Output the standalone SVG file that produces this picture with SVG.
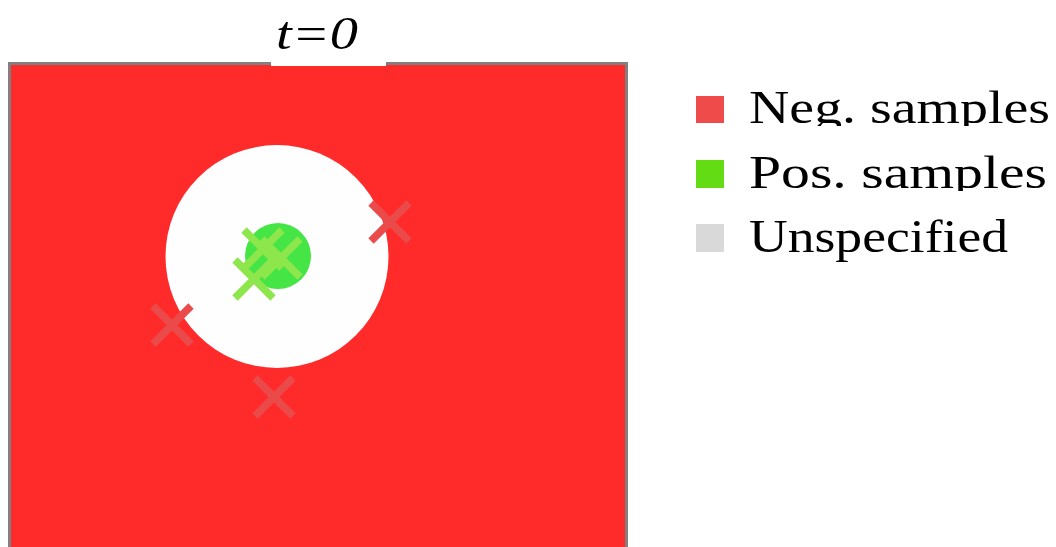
<svg xmlns="http://www.w3.org/2000/svg" width="1056" height="547" viewBox="0 0 1056 547">
<defs>
<style>
.lbl{font-family:"Liberation Serif","Times New Roman",serif;font-size:47px;fill:#000}
.neg{stroke:#eb4a4a;stroke-width:7.5;fill:none}
.pos{stroke:#8de64b;stroke-width:7.5;fill:none}
</style>
<clipPath id="c1"><rect x="740" y="80" width="316" height="46"/></clipPath>
<clipPath id="c2"><rect x="740" y="140" width="316" height="51"/></clipPath>
</defs>
<rect width="1056" height="547" fill="#fff"/>
<g id="plot">
<rect x="9.5" y="63.5" width="617" height="500" fill="#ff2b2b" stroke="#808080" stroke-width="3"/>
<rect x="271" y="58" width="115" height="8" fill="#fff"/>
<circle cx="277" cy="256.5" r="111.5" fill="#fefefe"/>
<circle cx="278" cy="256" r="33" fill="#44e544"/>
</g>
<g id="title">
<text x="276" y="49" class="lbl" font-style="italic" font-size="50" textLength="82" lengthAdjust="spacingAndGlyphs">t=0</text>
</g>
<g id="neg-samples">
<path class="neg" d="M371,203 L409,241 M409,203 L371,241"/>
<path class="neg" d="M153,306 L191,344 M191,306 L153,344"/>
<path class="neg" d="M255,378 L293,416 M293,378 L255,416"/>
</g>
<g id="pos-samples">
<path class="pos" d="M244,230 L282,268 M282,230 L244,268"/>
<path class="pos" d="M262,239 L300,277 M300,239 L262,277"/>
<path class="pos" d="M235,260 L273,298 M273,260 L235,298"/>
</g>
<g id="legend">
<rect x="696" y="96" width="28" height="27" fill="#ef4b4b"/>
<rect x="696" y="160" width="28" height="28" fill="#64dc14"/>
<rect x="696" y="224" width="28" height="28" fill="#d9d9d9"/>
<text x="749" y="123" class="lbl" textLength="301" lengthAdjust="spacingAndGlyphs" clip-path="url(#c1)">Neg. samples</text>
<text x="749" y="188" class="lbl" textLength="298" lengthAdjust="spacingAndGlyphs" clip-path="url(#c2)">Pos. samples</text>
<text x="749" y="252" class="lbl" textLength="259" lengthAdjust="spacingAndGlyphs">Unspecified</text>
</g>
</svg>
